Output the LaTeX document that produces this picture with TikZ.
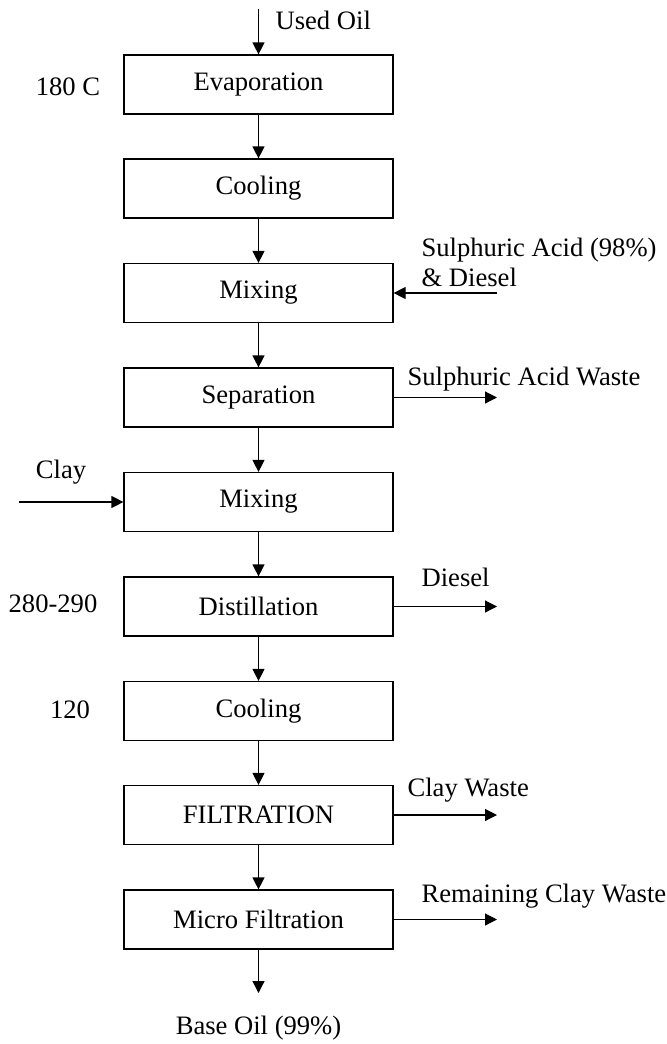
\documentclass[tikz,border=0pt]{standalone}
\usepackage{fontspec}
\setmainfont{Liberation Serif}
\usetikzlibrary{arrows.meta}

\begin{document}
\begin{tikzpicture}[x=0.5pt, y=-0.5pt, line width=0.6pt,
    >={Triangle[length=6pt, width=6pt]},
    font=\fontsize{13.3}{15}\selectfont,
    stage/.style={draw, minimum width=134.5pt, minimum height=29.5pt, inner sep=0pt},
    tag/.style={inner sep=0pt}]

  \useasboundingbox (0,0) rectangle (667,1044);

  % Process stages
  \node[stage] (evap)  at (258.5,84.5)  {Evaporation};
  \node[stage] (cool)  at (258.5,188.5) {Cooling};
  \node[stage] (mixa)  at (258.5,293)   {Mixing};
  \node[stage] (sep)   at (258.5,397.5) {Separation};
  \node[stage] (mixb)  at (258.5,502)   {Mixing};
  \node[stage] (dist)  at (258.5,606.5) {Distillation};
  \node[stage] (coolb) at (258.5,711)   {Cooling};
  \node[stage] (filt)  at (258.5,815)   {FILTRATION};
  \node[stage] (micro) at (258.5,919.5) {Micro Filtration};

  % Main flow
  \foreach \a/\b in {evap/cool, cool/mixa, mixa/sep, sep/mixb, mixb/dist,
                     dist/coolb, coolb/filt, filt/micro} {
    \draw[->] (\a) -- (\b);
  }

  % Feed and product
  \coordinate (feed) at (258.5,9);
  \node[tag, anchor=west] (used) at (275,20) {Used Oil};
  \draw[->] (feed) -- (evap);
  \coordinate (prod) at (258.5,993);
  \node[tag] (base) at (258.5,1028) {Base Oil (99\%)};
  \draw[->] (micro) -- (prod);

  % Temperatures
  \node[tag] (t180) at (68,87)  {180 C};
  \node[tag] (t280) at (53,604) {280-290};
  \node[tag] (t120) at (70,710) {120};

  % Inputs
  \coordinate (acidin) at (497,293);
  \node[tag, anchor=west, align=left] (acid) at (421,262) {Sulphuric Acid (98\%)\\\& Diesel};
  \draw[->] (acidin) -- (mixa);
  \coordinate (clayin) at (19,502);
  \node[tag] (clay) at (61,472) {Clay};
  \draw[->] (clayin) -- (mixb);

  % Waste streams
  \coordinate (acidout) at (497,397.5);
  \node[tag, anchor=west] (acidw) at (407,379) {Sulphuric Acid Waste};
  \draw[->] (sep) -- (acidout);
  \coordinate (dieselout) at (497,606.5);
  \node[tag, anchor=west] (diesel) at (421,577) {Diesel};
  \draw[->] (dist) -- (dieselout);
  \coordinate (clayout) at (497,815);
  \node[tag, anchor=west] (clayw) at (407,790) {Clay Waste};
  \draw[->] (filt) -- (clayout);
  \coordinate (remout) at (497,919.5);
  \node[tag, anchor=west] (remw) at (421,896) {Remaining Clay Waste};
  \draw[->] (micro) -- (remout);

\end{tikzpicture}
\end{document}
